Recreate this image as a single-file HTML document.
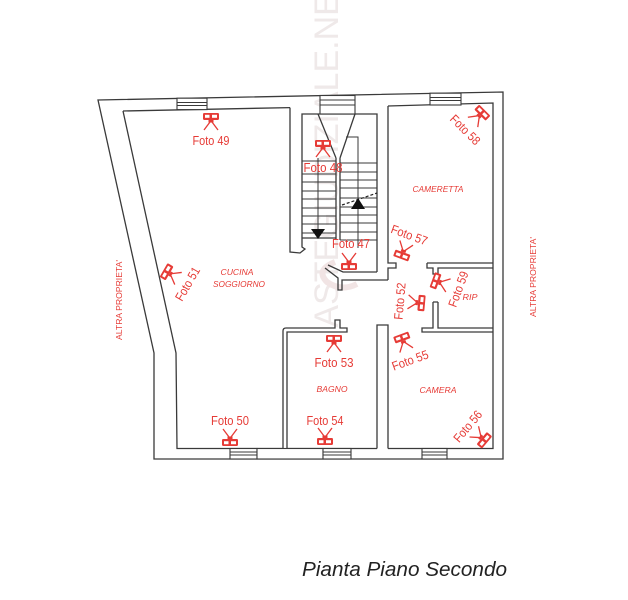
<!DOCTYPE html>
<html>
<head>
<meta charset="utf-8">
<style>
html,body{margin:0;padding:0;background:#fff;}
svg{display:block;}
.w{fill:none;stroke:#3a3a3a;stroke-width:1.3;stroke-linejoin:miter;}
.t{font-family:"Liberation Sans",sans-serif;font-size:12.5px;fill:#e63b36;text-anchor:middle;}
.r{font-family:"Liberation Sans",sans-serif;font-style:italic;font-size:8px;fill:#e63b36;text-anchor:middle;}
</style>
</head>
<body>
<svg width="628" height="600" viewBox="0 0 628 600" xmlns="http://www.w3.org/2000/svg">
<defs>
<g id="cam">
<rect x="-8" y="-4" width="16" height="7" rx="1.2" fill="#e63b36"/>
<rect x="-6" y="-2.2" width="4.5" height="3" fill="#fff"/>
<rect x="1" y="-2.2" width="5" height="3" fill="#fff"/>
<rect x="-2.5" y="3" width="5" height="2.5" fill="#e63b36"/>
<path d="M-1,5 L-7,13 M1,5 L7,13" stroke="#e63b36" stroke-width="1.3" fill="none"/>
</g>
</defs>

<!-- faint watermark -->
<text transform="translate(338,150) rotate(-90)" font-family="Liberation Sans, sans-serif" font-size="34" fill="#efe9e9" text-anchor="middle">ASTEGIUDIZIALE.NET</text>
<path d="M335,262 q-20,8 -8,20 q14,10 30,2" fill="none" stroke="#f1e4e4" stroke-width="6"/>

<!-- exterior walls -->
<path class="w" d="M98,100 L503,92 L503,459 L154,459 L154,353 Z"/>
<path class="w" d="M123,111 L290,107.6"/>
<path class="w" d="M123,111 L176,353 L177,448.5 L283,448.5"/>
<path class="w" d="M287,448.5 L377,448.5"/>
<path class="w" d="M388,448.5 L493,448.5 L493,103 L388,106"/>

<!-- cucina / stair wall -->
<path class="w" d="M290,107.6 L290,252 L300,253 L305,249 L302,247 L302,114 L377,114 L377,272"/>
<!-- cameretta left wall with jamb -->
<path class="w" d="M388,106 L388,263 L396,263 L396,268 L388,268 L388,280"/>

<!-- stair bottom / landing jamb -->
<path class="w" d="M328,265 L343,272 L377,272"/>
<path class="w" d="M325,268 L338,278 L338,290 L342,290 L342,280 L388,280"/>

<!-- stairs -->
<path class="w" d="M318,114 L336,158 M355,114 L340,158 M336,158 L336,240 M340,158 L340,240"/>
<path class="w" d="M302,238 L336,238"/>
<path class="w" style="stroke-width:1" d="M302,161 H336 M302,174 H336 M302,182 H336 M302,191 H336 M302,199 H336 M302,208 H336 M302,216 H336 M302,224 H336 M302,233 H336"/>
<path class="w" style="stroke-width:1" d="M340,163 H377 M340,172 H377 M340,180 H377 M340,188 H377 M340,198 H377 M340,207 H377 M340,215 H377 M340,223 H377 M340,232 H377 M340,240 H377"/>
<path class="w" style="stroke-width:1" d="M346,137 H358 V248 M318,158 V230"/>
<path d="M342,205 L377,193" stroke="#222" stroke-width="1.2" stroke-dasharray="3,2" fill="none"/>
<polygon points="311,229 325,229 318,239" fill="#111"/>
<polygon points="351,209 365,209 358,198" fill="#111"/>

<!-- cameretta bottom / RIP -->
<path class="w" d="M427,263 L493,263"/>
<path class="w" d="M427,263 L427,268 L433,268 L433,274 L438,274 L438,268 L493,268"/>
<path class="w" d="M433,302 L438,302 M433,302 L433,328 L422,328 L422,332 L493,332 M438,302 L438,328 L493,328"/>

<!-- bathroom walls -->
<path class="w" d="M283,448.5 L283,331 Q283,328 286,328 L335,328 L335,320 L340,320 L340,328 L347,328 L347,332 L287,332 L287,448.5"/>
<!-- bath / camera wall -->
<path class="w" d="M377,448.5 L377,325 L388,325 L388,448.5"/>

<!-- windows -->
<g class="w" style="stroke-width:1.1">
<rect x="177" y="98.2" width="30" height="11.4" fill="#fff"/>
<path d="M177,102.5 H207 M177,105.5 H207"/>
<rect x="320" y="95.5" width="35" height="18.5" fill="#fff"/>
<path d="M320,100 H355 M320,105 H355"/>
<rect x="430" y="93.2" width="31" height="11.8" fill="#fff"/>
<path d="M430,97.5 H461 M430,100.5 H461"/>
<rect x="230" y="448.5" width="27" height="10.5" fill="#fff"/>
<path d="M230,452 H257 M230,455 H257"/>
<rect x="257" y="448.5" width="66" height="10.5" fill="#fff"/>
<rect x="323" y="448.5" width="28" height="10.5" fill="#fff"/>
<path d="M323,452 H351 M323,455 H351"/>
<rect x="422" y="448.5" width="25" height="10.5" fill="#fff"/>
<path d="M422,452 H447 M422,455 H447"/>
</g>

<!-- photo markers -->
<g transform="translate(211,117)"><use href="#cam"/><text class="t" y="28" textLength="37" lengthAdjust="spacingAndGlyphs">Foto 49</text></g>
<g transform="translate(323,144)"><use href="#cam"/><text class="t" y="28" textLength="39" lengthAdjust="spacingAndGlyphs">Foto 48</text></g>
<g transform="translate(334,339)"><use href="#cam"/><text class="t" y="28" textLength="39" lengthAdjust="spacingAndGlyphs">Foto 53</text></g>
<g transform="translate(230,442)"><use href="#cam" transform="scale(1,-1)"/><text class="t" y="-17" textLength="38" lengthAdjust="spacingAndGlyphs">Foto 50</text></g>
<g transform="translate(325,441)"><use href="#cam" transform="scale(1,-1)"/><text class="t" y="-16" textLength="37" lengthAdjust="spacingAndGlyphs">Foto 54</text></g>
<g transform="translate(349,266)"><use href="#cam" transform="scale(1,-1)"/><text class="t" x="2" y="-18" textLength="38" lengthAdjust="spacingAndGlyphs">Foto 47</text></g>
<g transform="translate(482,113) rotate(45)"><use href="#cam"/><text class="t" y="28" textLength="37" lengthAdjust="spacingAndGlyphs">Foto 58</text></g>
<g transform="translate(484,440) rotate(-50)"><use href="#cam" transform="scale(1,-1)"/><text class="t" y="-17" textLength="37" lengthAdjust="spacingAndGlyphs">Foto 56</text></g>
<g transform="translate(402,255) rotate(20)"><use href="#cam" transform="scale(1,-1)"/><text class="t" y="-17" textLength="38" lengthAdjust="spacingAndGlyphs">Foto 57</text></g>
<g transform="translate(421,303) rotate(-85)"><use href="#cam" transform="scale(1,-1)"/><text class="t" y="-17" textLength="37" lengthAdjust="spacingAndGlyphs">Foto 52</text></g>
<g transform="translate(402,338) rotate(-20)"><use href="#cam"/><text class="t" y="28" textLength="38" lengthAdjust="spacingAndGlyphs">Foto 55</text></g>
<g transform="translate(436,281) rotate(-70)"><use href="#cam"/><text class="t" y="28" textLength="37" lengthAdjust="spacingAndGlyphs">Foto 59</text></g>
<g transform="translate(167,272) rotate(-60)"><use href="#cam"/><text class="t" y="28" textLength="37" lengthAdjust="spacingAndGlyphs">Foto 51</text></g>

<!-- room labels -->
<text class="r" x="438" y="192" textLength="51" lengthAdjust="spacingAndGlyphs">CAMERETTA</text>
<text class="r" x="237" y="275" textLength="33" lengthAdjust="spacingAndGlyphs">CUCINA</text>
<text class="r" x="239" y="287" textLength="52" lengthAdjust="spacingAndGlyphs">SOGGIORNO</text>
<text class="r" x="470" y="300" textLength="15" lengthAdjust="spacingAndGlyphs">RIP</text>
<text class="r" x="332" y="392" textLength="31" lengthAdjust="spacingAndGlyphs">BAGNO</text>
<text class="r" x="438" y="393" textLength="37" lengthAdjust="spacingAndGlyphs">CAMERA</text>
<text class="r" style="font-style:normal" transform="translate(122,300) rotate(-90)" textLength="80" lengthAdjust="spacingAndGlyphs">ALTRA PROPRIETA'</text>
<text class="r" style="font-style:normal" transform="translate(536,277) rotate(-90)" textLength="80" lengthAdjust="spacingAndGlyphs">ALTRA PROPRIETA'</text>

<!-- title -->
<text x="302" y="576" font-family="Liberation Sans, sans-serif" font-style="italic" font-size="20" fill="#222" textLength="205" lengthAdjust="spacingAndGlyphs">Pianta Piano Secondo</text>
</svg>
</body>
</html>
